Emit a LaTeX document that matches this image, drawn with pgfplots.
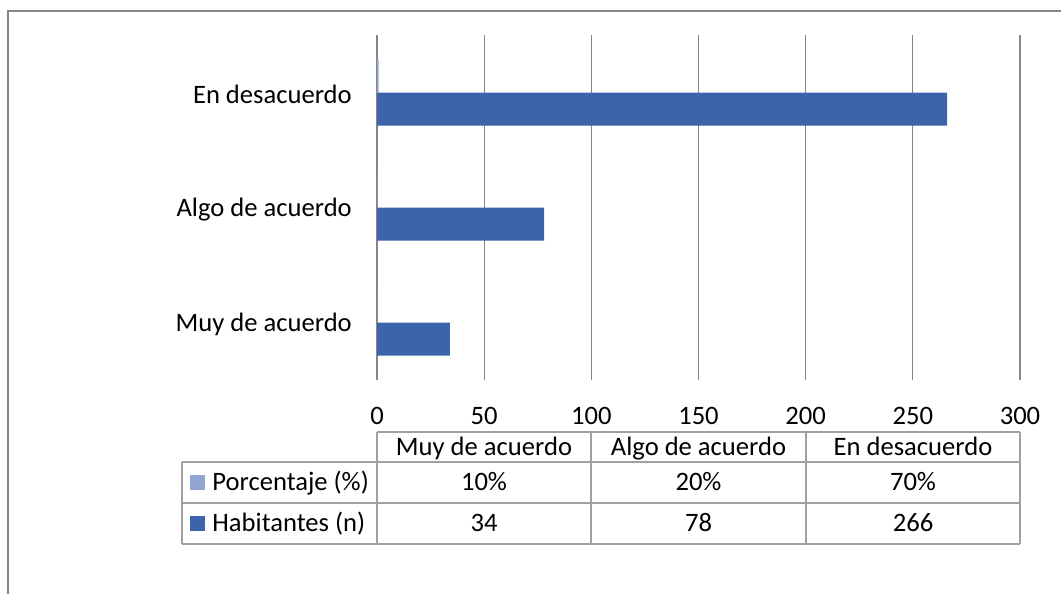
\documentclass[border=0pt]{standalone}
\usepackage{fontspec}
\setmainfont{Carlito}
\usepackage{pgfplots}
\pgfplotsset{compat=1.18}
\definecolor{hab}{RGB}{60,100,170}
\definecolor{pct}{RGB}{146,164,212}
\definecolor{gridc}{RGB}{134,134,134}
\definecolor{tabc}{RGB}{160,160,160}
\begin{document}
\fontsize{13.3}{16}\selectfont
\begin{tikzpicture}[x=0.5pt,y=-0.5pt]
\useasboundingbox (0,0) rectangle (1061,594);
\draw[gridc, line width=0.7pt] (8,594) -- (8,11) -- (1061,11);
\begin{axis}[at={(188.5pt,-190pt)}, anchor=south west, scale only axis,
  width=321.5pt, height=172.5pt,
  xmin=0, xmax=300, ymin=-0.5, ymax=2.5,
  xtick={0,50,...,300}, ytick={0,1,2},
  yticklabels={Muy de acuerdo, Algo de acuerdo, En desacuerdo},
  xmajorgrids, grid style={gridc, line width=0.6pt},
  axis line style={draw=none}, major tick length=0pt,
  xticklabel style={yshift=-9pt}, yticklabel style={xshift=-8pt, yshift=-1pt},
  /pgf/number format/assume math mode=true,
  tick label style={font=\fontsize{13.3}{16}\selectfont},
  xbar, bar width=16.5pt]
\addplot[fill=hab, draw=none, bar shift=-8.25pt] coordinates {(34,0) (78,1) (266,2)};
\addplot[fill=pct, draw=none, bar shift=8.25pt] coordinates {(0.1,0) (0.2,1) (0.7,2)};
\end{axis}
\draw[tabc, line width=0.6pt] (377,432) -- (1020,432)
  (182,462) -- (1020,462) (182,503) -- (1020,503) (182,544) -- (1020,544)
  (182,462) -- (182,544) (377,432) -- (377,544) (591,432) -- (591,544)
  (806,432) -- (806,544) (1020,432) -- (1020,544);
\begin{scope}[every node/.style={anchor=base, inner sep=0pt}]
\node at (484,455) {Muy de acuerdo};
\node at (698.5,455) {Algo de acuerdo};
\node at (913,455) {En desacuerdo};
\node at (484,490) {10\%};
\node at (698.5,490) {20\%};
\node at (913,490) {70\%};
\node at (484,531) {34};
\node at (698.5,531) {78};
\node at (913,531) {266};
\node[anchor=base west] at (212,490) {Porcentaje (\%)};
\node[anchor=base west] at (212,531) {Habitantes (n)};
\end{scope}
\fill[pct] (190,475) rectangle (205,490);
\fill[hab] (190,516) rectangle (205,531);
\end{tikzpicture}
\end{document}
